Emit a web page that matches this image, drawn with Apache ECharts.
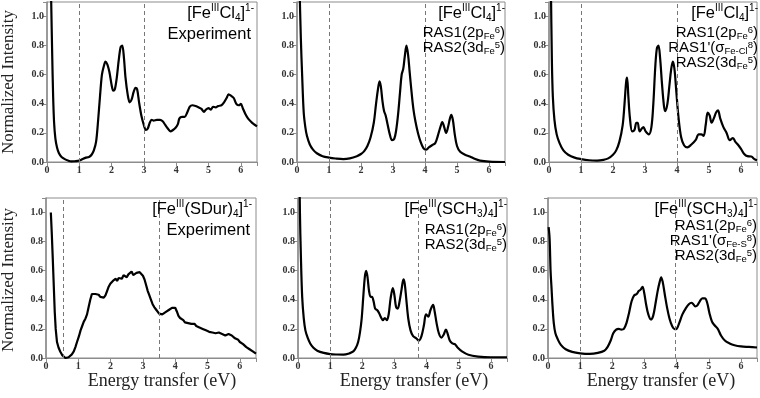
<!DOCTYPE html>
<html>
<head>
<meta charset="utf-8">
<script src="https://cdn.jsdelivr.net/npm/echarts@6/dist/echarts.min.js"></script>
<style>
  html, body { margin: 0; padding: 0; background: #fff; }
  #chart { width: 760px; height: 398px; }
</style>
</head>
<body>
<div id="chart"></div>
<script>
// tick labels
const xTicks = [0, 1, 2, 3, 4, 5, 6];
const yTicks = ["0.0", "0.2", "0.4", "0.6", "0.8", "1.0"];

// [Fe(III)Cl4]1- experiment
const fecl4Exp = [
  [0.10, 1.5], [0.13, 1.1], [0.16, 0.75], [0.19, 0.45], [0.22, 0.27], [0.26, 0.16], [0.31, 0.1],
  [0.37, 0.06], [0.45, 0.035], [0.55, 0.02], [0.65, 0.01], [0.75, 0.004], [0.85, 0.005],
  [0.95, 0.008], [1.03, 0.012], [1.1, 0.02], [1.2, 0.03], [1.3, 0.035], [1.38, 0.05],
  [1.45, 0.08], [1.52, 0.14], [1.58, 0.28], [1.64, 0.45], [1.7, 0.6], [1.76, 0.66],
  [1.81, 0.69], [1.87, 0.67], [1.93, 0.62], [2.0, 0.53], [2.05, 0.49], [2.1, 0.5],
  [2.16, 0.58], [2.22, 0.7], [2.28, 0.79], [2.33, 0.8], [2.38, 0.72], [2.43, 0.58],
  [2.5, 0.46], [2.56, 0.41], [2.62, 0.43], [2.68, 0.48], [2.74, 0.51], [2.79, 0.5],
  [2.85, 0.41], [2.92, 0.32], [2.99, 0.26], [3.06, 0.22], [3.12, 0.23], [3.18, 0.27],
  [3.24, 0.29], [3.3, 0.285], [3.4, 0.29], [3.5, 0.29], [3.58, 0.28], [3.66, 0.255],
  [3.74, 0.23], [3.82, 0.21], [3.9, 0.22], [3.98, 0.235], [4.05, 0.26], [4.1, 0.3],
  [4.18, 0.31], [4.26, 0.31], [4.34, 0.34], [4.42, 0.38], [4.5, 0.39], [4.6, 0.385],
  [4.7, 0.375], [4.78, 0.365], [4.86, 0.345], [4.92, 0.36], [5.0, 0.37], [5.07, 0.36],
  [5.14, 0.38], [5.22, 0.375], [5.3, 0.385], [5.4, 0.39], [5.48, 0.41], [5.56, 0.44],
  [5.62, 0.465], [5.7, 0.455], [5.78, 0.44], [5.86, 0.4], [5.94, 0.39], [6.0, 0.4],
  [6.06, 0.37], [6.14, 0.33], [6.22, 0.3], [6.3, 0.28], [6.4, 0.26], [6.5, 0.245]
];

// [Fe(III)Cl4]1- RAS1(2p) RAS2(3d)
const fecl4Ras = [
  [0.04, 1.6], [0.08, 1.2], [0.12, 0.85], [0.16, 0.6], [0.21, 0.34], [0.26, 0.24], [0.31, 0.18],
  [0.4, 0.12], [0.5, 0.085], [0.62, 0.06], [0.8, 0.04], [1.0, 0.03], [1.2, 0.024],
  [1.45, 0.02], [1.65, 0.025], [1.87, 0.04], [2.0, 0.055], [2.1, 0.075], [2.2, 0.11],
  [2.3, 0.17], [2.4, 0.27], [2.47, 0.4], [2.53, 0.5], [2.58, 0.555], [2.62, 0.52],
  [2.67, 0.42], [2.72, 0.35], [2.77, 0.32], [2.83, 0.26], [2.9, 0.19], [2.97, 0.15],
  [3.04, 0.16], [3.1, 0.22], [3.16, 0.33], [3.22, 0.48], [3.27, 0.6], [3.32, 0.64],
  [3.37, 0.73], [3.42, 0.8], [3.47, 0.74], [3.52, 0.62], [3.58, 0.48], [3.64, 0.36],
  [3.7, 0.28], [3.78, 0.2], [3.86, 0.14], [3.95, 0.095], [4.03, 0.085], [4.12, 0.1],
  [4.22, 0.115], [4.32, 0.13], [4.4, 0.18], [4.48, 0.24], [4.54, 0.275], [4.6, 0.24],
  [4.66, 0.2], [4.72, 0.24], [4.78, 0.3], [4.82, 0.325], [4.87, 0.29], [4.93, 0.19],
  [5.0, 0.11], [5.1, 0.07], [5.25, 0.05], [5.4, 0.038], [5.55, 0.022], [5.72, 0.01],
  [6.0, 0.003], [6.5, 0.0]
];

// [Fe(III)Cl4]1- RAS1(2p) RAS1'(sigma Fe-Cl) RAS2(3d)
const fecl4RasP = [
  [0.03, 1.7], [0.06, 1.2], [0.09, 0.7], [0.12, 0.45], [0.17, 0.29], [0.24, 0.19],
  [0.33, 0.13], [0.45, 0.08], [0.6, 0.05], [0.8, 0.03], [1.0, 0.02], [1.25, 0.012],
  [1.5, 0.01], [1.7, 0.015], [1.85, 0.025], [2.0, 0.05], [2.1, 0.08], [2.2, 0.14],
  [2.3, 0.25], [2.36, 0.4], [2.41, 0.55], [2.44, 0.58], [2.48, 0.45], [2.53, 0.3],
  [2.6, 0.21], [2.67, 0.22], [2.73, 0.27], [2.77, 0.27], [2.83, 0.21], [2.9, 0.23],
  [2.95, 0.24], [3.02, 0.21], [3.12, 0.19], [3.2, 0.24], [3.26, 0.4], [3.32, 0.65],
  [3.37, 0.78], [3.42, 0.8], [3.47, 0.72], [3.53, 0.54], [3.59, 0.39], [3.63, 0.35],
  [3.7, 0.4], [3.76, 0.52], [3.82, 0.64], [3.87, 0.69], [3.92, 0.64], [3.98, 0.48],
  [4.05, 0.3], [4.13, 0.17], [4.22, 0.115], [4.32, 0.1], [4.45, 0.12], [4.58, 0.15],
  [4.68, 0.19], [4.76, 0.19], [4.83, 0.18], [4.9, 0.26], [4.96, 0.34], [5.02, 0.32],
  [5.08, 0.27], [5.15, 0.3], [5.22, 0.34], [5.28, 0.355], [5.35, 0.3], [5.45, 0.24],
  [5.55, 0.2], [5.65, 0.15], [5.75, 0.165], [5.82, 0.14], [5.9, 0.12], [6.0, 0.09],
  [6.1, 0.055], [6.2, 0.04], [6.32, 0.038], [6.42, 0.02], [6.5, 0.012]
];

// [Fe(III)(SDur)4]1- experiment
const fesdurExp = [
  [0.15, 1.0], [0.18, 0.85], [0.21, 0.68], [0.24, 0.5], [0.27, 0.32], [0.3, 0.2], [0.34, 0.11],
  [0.39, 0.07], [0.44, 0.045], [0.5, 0.02], [0.55, 0.008], [0.6, 0.0], [0.65, 0.0],
  [0.7, 0.005], [0.75, 0.012], [0.8, 0.025], [0.86, 0.045], [0.91, 0.075], [0.96, 0.11],
  [1.02, 0.15], [1.07, 0.19], [1.12, 0.22], [1.17, 0.25], [1.22, 0.27], [1.27, 0.3],
  [1.32, 0.35], [1.37, 0.4], [1.42, 0.44], [1.48, 0.445], [1.53, 0.44], [1.58, 0.43],
  [1.63, 0.435], [1.68, 0.42], [1.74, 0.41], [1.79, 0.415], [1.84, 0.43], [1.89, 0.46],
  [1.94, 0.49], [1.99, 0.51], [2.03, 0.5], [2.07, 0.53], [2.12, 0.525], [2.16, 0.545],
  [2.2, 0.53], [2.25, 0.55], [2.3, 0.56], [2.35, 0.545], [2.4, 0.57], [2.45, 0.56],
  [2.5, 0.555], [2.55, 0.575], [2.6, 0.57], [2.65, 0.595], [2.7, 0.57], [2.75, 0.575],
  [2.8, 0.585], [2.85, 0.575], [2.9, 0.59], [2.95, 0.585], [3.0, 0.565], [3.05, 0.54],
  [3.1, 0.5], [3.15, 0.46], [3.2, 0.43], [3.25, 0.4], [3.3, 0.37], [3.35, 0.35],
  [3.4, 0.335], [3.45, 0.325], [3.5, 0.305], [3.55, 0.31], [3.6, 0.3], [3.65, 0.31],
  [3.7, 0.315], [3.75, 0.32], [3.8, 0.33], [3.85, 0.34], [3.9, 0.345], [3.95, 0.355],
  [4.0, 0.345], [4.05, 0.32], [4.1, 0.29], [4.15, 0.275], [4.2, 0.27], [4.25, 0.26],
  [4.3, 0.245], [4.35, 0.25], [4.4, 0.24], [4.45, 0.245], [4.5, 0.235], [4.55, 0.23],
  [4.6, 0.235], [4.65, 0.22], [4.7, 0.225], [4.75, 0.21], [4.8, 0.215], [4.85, 0.2],
  [4.9, 0.205], [4.95, 0.19], [5.0, 0.195], [5.05, 0.18], [5.1, 0.185], [5.15, 0.175],
  [5.2, 0.18], [5.25, 0.17], [5.3, 0.18], [5.35, 0.175], [5.4, 0.18], [5.45, 0.165],
  [5.5, 0.16], [5.55, 0.155], [5.6, 0.16], [5.65, 0.165], [5.7, 0.17], [5.75, 0.155],
  [5.8, 0.15], [5.85, 0.135], [5.9, 0.13], [5.95, 0.125], [6.0, 0.11], [6.05, 0.1],
  [6.1, 0.095], [6.15, 0.085], [6.2, 0.075], [6.25, 0.07], [6.3, 0.06], [6.35, 0.05],
  [6.4, 0.045], [6.45, 0.035], [6.5, 0.03]
];

// [Fe(III)(SCH3)4]1- RAS1(2p) RAS2(3d)
const fesch3Ras = [
  [0.03, 1.6], [0.06, 1.0], [0.09, 0.7], [0.13, 0.42], [0.18, 0.27], [0.23, 0.19],
  [0.3, 0.14], [0.38, 0.1], [0.48, 0.07], [0.6, 0.05], [0.8, 0.035], [1.0, 0.027],
  [1.2, 0.024], [1.41, 0.023], [1.6, 0.032], [1.72, 0.045], [1.8, 0.07], [1.87, 0.11],
  [1.93, 0.18], [1.98, 0.27], [2.03, 0.42], [2.08, 0.56], [2.12, 0.6], [2.16, 0.56],
  [2.21, 0.46], [2.26, 0.42], [2.3, 0.42], [2.35, 0.39], [2.4, 0.34], [2.46, 0.33],
  [2.52, 0.31], [2.58, 0.28], [2.64, 0.26], [2.7, 0.275], [2.76, 0.26], [2.82, 0.3],
  [2.88, 0.41], [2.95, 0.48], [3.0, 0.43], [3.05, 0.35], [3.1, 0.34], [3.16, 0.39],
  [3.22, 0.47], [3.28, 0.54], [3.32, 0.51], [3.37, 0.4], [3.43, 0.27], [3.5, 0.19],
  [3.58, 0.15], [3.68, 0.135], [3.76, 0.12], [3.84, 0.15], [3.92, 0.23], [3.98, 0.3],
  [4.05, 0.285], [4.12, 0.33], [4.2, 0.365], [4.25, 0.32], [4.31, 0.24], [4.38, 0.17],
  [4.46, 0.14], [4.53, 0.16], [4.6, 0.195], [4.65, 0.17], [4.72, 0.12], [4.8, 0.1],
  [4.88, 0.095], [4.97, 0.07], [5.1, 0.045], [5.3, 0.022], [5.6, 0.01], [6.0, 0.005],
  [6.5, 0.005]
];

// [Fe(III)(SCH3)4]1- RAS1(2p) RAS1'(sigma Fe-S) RAS2(3d)
const fesch3RasP = [
  [0.02, 0.9], [0.05, 0.82], [0.08, 0.6], [0.11, 0.48], [0.14, 0.36], [0.18, 0.24],
  [0.23, 0.17], [0.3, 0.13], [0.4, 0.09], [0.55, 0.06], [0.75, 0.042], [1.0, 0.032],
  [1.3, 0.028], [1.55, 0.035], [1.75, 0.05], [1.85, 0.075], [1.95, 0.12], [2.03, 0.17],
  [2.12, 0.195], [2.2, 0.2], [2.28, 0.195], [2.36, 0.2], [2.44, 0.24], [2.52, 0.31],
  [2.6, 0.39], [2.68, 0.43], [2.76, 0.44], [2.82, 0.46], [2.88, 0.47], [2.94, 0.49],
  [2.99, 0.45], [3.05, 0.37], [3.12, 0.3], [3.2, 0.265], [3.27, 0.29], [3.34, 0.37],
  [3.41, 0.46], [3.47, 0.52], [3.52, 0.555], [3.57, 0.52], [3.63, 0.44], [3.7, 0.35],
  [3.78, 0.27], [3.86, 0.22], [3.94, 0.198], [4.0, 0.2], [4.08, 0.24], [4.18, 0.3],
  [4.28, 0.34], [4.38, 0.37], [4.46, 0.38], [4.52, 0.37], [4.58, 0.355], [4.64, 0.36],
  [4.72, 0.39], [4.8, 0.41], [4.88, 0.41], [4.95, 0.38], [5.02, 0.31], [5.1, 0.25],
  [5.18, 0.225], [5.28, 0.2], [5.38, 0.155], [5.5, 0.12], [5.65, 0.1], [5.8, 0.088],
  [6.0, 0.08], [6.25, 0.076], [6.5, 0.072]
];

// dashed marker positions (eV)
const markers = [[1, 3], [1, 4], [1, 4], [0.53, 3.5], [1, 3.73], [1, 3.97]];
const panelData = [fecl4Exp, fecl4Ras, fecl4RasP, fesdurExp, fesch3Ras, fesch3RasP];
const smoothing = [0.3, 0.35, 0.35, false, 0.35, 0.35];

const grids = [
  { left: 47, top: 2, width: 210, height: 160 },
  { left: 297, top: 2, width: 208, height: 160 },
  { left: 549, top: 2, width: 209, height: 160 },
  { left: 46, top: 198, width: 210, height: 160 },
  { left: 298, top: 198, width: 209, height: 160 },
  { left: 548, top: 198, width: 210, height: 160 }
];

const axisGrey = "#8c8c8c";
const tickFont = { color: "#333", fontFamily: "Liberation Serif", fontSize: 10, fontWeight: "bold" };

const option = {
  animation: false,
  grid: grids.map(g => ({ ...g, show: true, borderColor: axisGrey, borderWidth: 1, containLabel: false })),
  xAxis: grids.map((g, i) => ({
    type: "value", gridIndex: i, min: 0, max: 6.5, interval: 1,
    axisLine: { show: true, onZero: false, lineStyle: { color: axisGrey, width: 1 } },
    axisTick: { show: true, length: 4, lineStyle: { color: axisGrey } },
    axisLabel: { ...tickFont, margin: 3, formatter: v => (xTicks.includes(v) ? String(v) : "") },
    splitLine: { show: false }
  })),
  yAxis: grids.map((g, i) => ({
    type: "value", gridIndex: i, min: 0, max: 1.1, interval: 0.2,
    axisLine: { show: true, lineStyle: { color: axisGrey, width: 1.5 } },
    axisTick: { show: true, length: 4, lineStyle: { color: axisGrey } },
    axisLabel: { ...tickFont, margin: 3, formatter: v => yTicks[Math.round(v / 0.2)] || "" },
    splitLine: { show: false }
  })),
  series: panelData.map((d, i) => ({
    type: "line", xAxisIndex: i, yAxisIndex: i, data: d,
    showSymbol: false, smooth: smoothing[i], clip: true,
    lineStyle: { color: "#000", width: 2.2 },
    markLine: {
      silent: true, symbol: "none", label: { show: false },
      lineStyle: { color: "#777", type: [4, 3], width: 1 },
      data: markers[i].map(x => ({ xAxis: x }))
    }
  })),
  graphic: []
};

// annotation text with sub/superscripts
const rich = {
  b: { fontFamily: "Liberation Sans", fontSize: 16.5, lineHeight: 20, color: "#111" },
  m: { fontFamily: "Liberation Sans", fontSize: 15, lineHeight: 16, color: "#111" },
  sup: { fontFamily: "Liberation Sans", fontSize: 10, lineHeight: 12, verticalAlign: "top", color: "#111" },
  sub: { fontFamily: "Liberation Sans", fontSize: 10, lineHeight: 10, verticalAlign: "bottom", color: "#111" },
  msup: { fontFamily: "Liberation Sans", fontSize: 9.5, lineHeight: 10, verticalAlign: "top", color: "#111" },
  msub: { fontFamily: "Liberation Sans", fontSize: 9.5, lineHeight: 9, verticalAlign: "bottom", color: "#111" }
};
function note(x, y, text) {
  option.graphic.push({
    type: "text", x, y, z: 10,
    style: { text, rich, align: "right", verticalAlign: "top" }
  });
}
const feCl4 = "{b|[Fe}{sup|III}{b|Cl}{sub|4}{b|]}{sup|1-}";
const ras1 = "{m|RAS1(2p}{msub|Fe}{msup|6}{m|)}";
const ras2 = "{m|RAS2(3d}{msub|Fe}{msup|5}{m|)}";
note(254, 3, feCl4);
note(251, 24, "{b|Experiment}");
note(505, 3, feCl4);
note(505, 25, ras1);
note(505, 40, ras2);
note(758, 3, feCl4);
note(758, 25, ras1);
note(758, 40, "{m|RAS1'(σ}{msub|Fe-Cl}{msup|8}{m|)}");
note(758, 55, ras2);
note(252, 199, "{b|[Fe}{sup|III}{b|(SDur)}{sub|4}{b|]}{sup|1-}");
note(250, 220, "{b|Experiment}");
const feSch3 = "{b|[Fe}{sup|III}{b|(SCH}{sub|3}{b|)}{sub|4}{b|]}{sup|1-}";
note(507, 199, feSch3);
note(507, 222, ras1);
note(507, 237, ras2);
note(757, 199, feSch3);
note(757, 218, ras1);
note(757, 233, "{m|RAS1'(σ}{msub|Fe-S}{msup|8}{m|)}");
note(757, 248, ras2);

// axis titles
const titleFont = "17px 'Liberation Serif'";
[[9, 82], [9, 280]].forEach(([x, y]) => option.graphic.push({
  type: "text", x, y, rotation: Math.PI / 2,
  style: { text: "Normalized Intensity", font: titleFont, fill: "#222", align: "center", verticalAlign: "middle" }
}));
[[162, 381], [414, 381], [661, 381]].forEach(([x, y]) => option.graphic.push({
  type: "text", x, y,
  style: { text: "Energy transfer (eV)", font: "18px 'Liberation Serif'", fill: "#222", align: "center", verticalAlign: "middle" }
}));

const chart = echarts.init(document.getElementById("chart"), null, { renderer: "canvas" });
chart.setOption(option);
</script>
</body>
</html>
